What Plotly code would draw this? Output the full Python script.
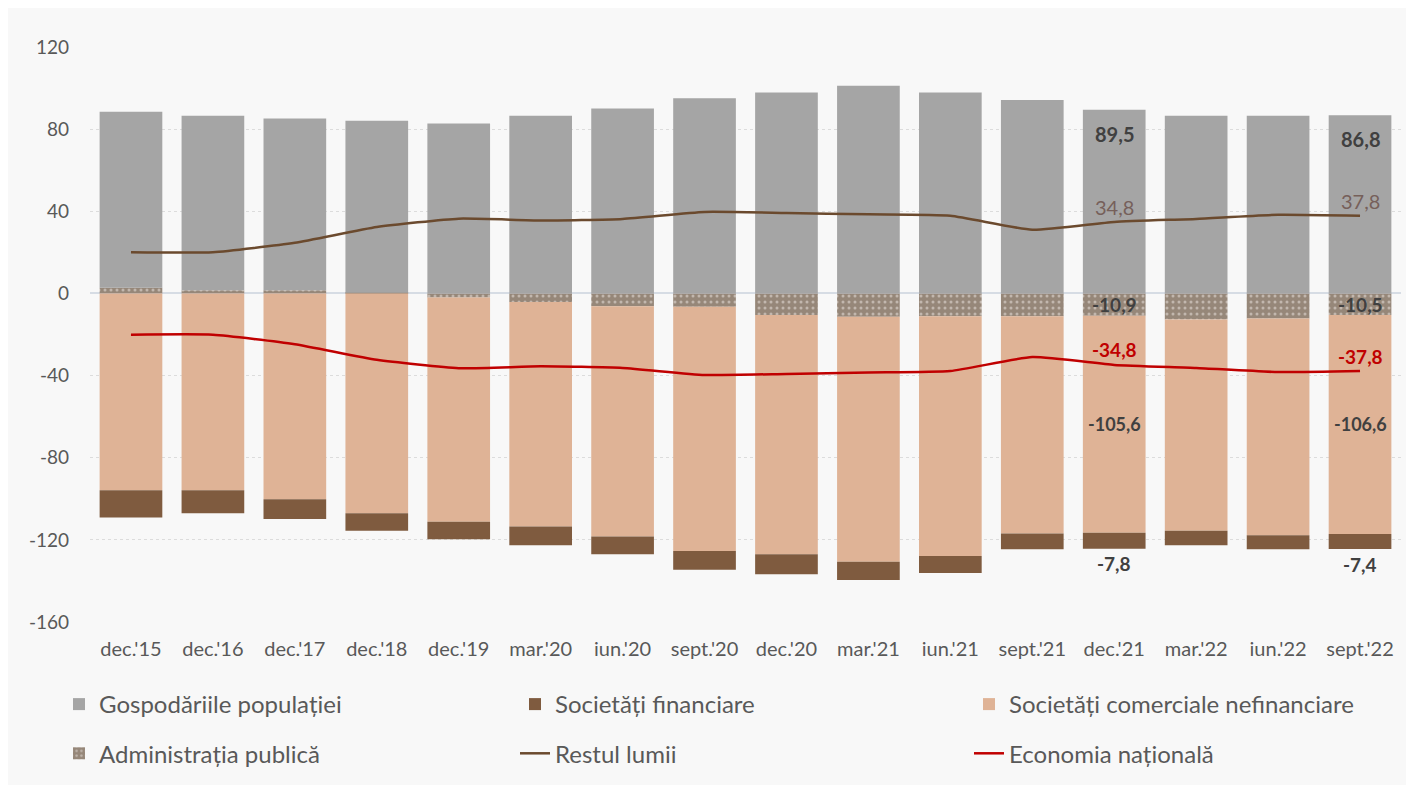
import plotly.graph_objects as go

categories = ["dec.'15", "dec.'16", "dec.'17", "dec.'18", "dec.'19", "mar.'20", "iun.'20", "sept.'20",
              "dec.'20", "mar.'21", "iun.'21", "sept.'21", "dec.'21", "mar.'22", "iun.'22", "sept.'22"]

gospodarii = [85.7, 84.9, 83.6, 83.8, 82.8, 86.5, 90.1, 95.0, 97.9, 101.1, 97.9, 94.2, 89.5, 86.5, 86.5, 86.8]
administratia = [2.8, 1.6, 1.6, 0.3, -2.0, -4.2, -6.2, -6.5, -10.5, -11.4, -11.1, -11.1, -10.9, -12.7, -12.2, -10.5]
nefinanciare = [-95.8, -95.8, -100.2, -107.0, -109.2, -109.3, -112.2, -118.9, -116.5, -119.2, -116.7, -105.8, -105.6, -102.9, -105.5, -106.6]
financiare = [-13.3, -11.2, -9.7, -8.6, -8.5, -9.1, -8.6, -9.2, -9.7, -8.9, -8.3, -7.7, -7.8, -7.0, -6.9, -7.4]
restul_lumii = [20.1, 20.1, 24.7, 32.3, 36.4, 35.5, 36.3, 39.7, 39.2, 38.5, 37.8, 31.0, 34.8, 36.3, 38.3, 37.8]
economia = [-20.1, -20.1, -24.7, -32.3, -36.4, -35.5, -36.3, -39.7, -39.2, -38.5, -37.8, -31.0, -34.8, -36.3, -38.3, -37.8]

label_idx = [12, 15]
y_ticks = [-160, -120, -80, -40, 0, 40, 80, 120]

C_GRAY = "#A5A5A5"
C_FIN = "#7F5B3F"
C_NEF = "#DFB396"
C_LINE_BR = "#6B4A2E"
C_RED = "#C00000"
C_TXT = "#595959"
FONT = "Lato"

fig = go.Figure()
fig.add_trace(go.Bar(x=categories, y=administratia, name="Administrația publică", legend="legend",
                     legendgroup="adm", legendrank=2,
                     marker=dict(color="#A89B90", line=dict(width=0),
                                 pattern=dict(shape=".", fgcolor="#EDE8E3", bgcolor="#968779", size=6, solidity=0.2))))
fig.add_trace(go.Bar(x=categories, y=gospodarii, name="Gospodăriile populației", legend="legend",
                     legendgroup="gosp", legendrank=1,
                     marker=dict(color=C_GRAY, line=dict(width=0))))
fig.add_trace(go.Bar(x=categories, y=nefinanciare, name="Societăți comerciale nefinanciare", legend="legend3",
                     legendgroup="nef", legendrank=1,
                     marker=dict(color=C_NEF, line=dict(width=0))))
fig.add_trace(go.Bar(x=categories, y=financiare, name="Societăți financiare", legend="legend2",
                     legendgroup="fin", legendrank=1,
                     marker=dict(color=C_FIN, line=dict(width=0))))
fig.add_trace(go.Scatter(x=categories, y=restul_lumii, name="Restul lumii", mode="lines", legend="legend2",
                         legendgroup="rest", legendrank=2,
                         line=dict(color=C_LINE_BR, width=2.5, shape="spline", smoothing=0.5)))
fig.add_trace(go.Scatter(x=categories, y=economia, name="Economia națională", mode="lines", legend="legend3",
                         legendgroup="econ", legendrank=2,
                         line=dict(color=C_RED, width=2.5, shape="spline", smoothing=0.5)))


def fmt(v):
    return f"{v:.1f}".replace(".", ",")


annotations = []
for i in label_idx:
    x = categories[i]
    g = gospodarii[i] + max(administratia[i], 0)
    a = administratia[i]
    n = nefinanciare[i]
    f = financiare[i]
    base_neg = min(a, 0)
    common = dict(x=x, xref="x", yref="y", showarrow=False, yanchor="middle")
    annotations.append(dict(common, y=g, text=f"<b>{fmt(gospodarii[i])}</b>", yshift=-24,
                            font=dict(family=FONT, size=20, color="#404040")))
    annotations.append(dict(common, y=restul_lumii[i], text=fmt(restul_lumii[i]), yshift=15,
                            font=dict(family=FONT, size=20, color="#76605A")))
    annotations.append(dict(common, y=a / 2, text=f"<b>{fmt(a)}</b>", yshift=0,
                            font=dict(family=FONT, size=19, color="#404040")))
    annotations.append(dict(common, y=economia[i], text=f"<b>{fmt(economia[i])}</b>", yshift=15,
                            font=dict(family=FONT, size=19, color=C_RED)))
    annotations.append(dict(common, y=base_neg + n / 2, text=f"<b>{fmt(n)}</b>", yshift=0,
                            font=dict(family=FONT, size=18, color="#404040")))
    annotations.append(dict(common, y=base_neg + n + f, text=f"<b>{fmt(f)}</b>", yshift=-15,
                            font=dict(family=FONT, size=19, color="#404040")))

W, H = 1398, 777
legend_common = dict(orientation="v", xref="container", yref="container",
                     xanchor="left", yanchor="top", y=1 - 674 / H,
                     font=dict(family=FONT, size=24, color=C_TXT), traceorder="grouped",
                     tracegroupgap=15, itemwidth=30, bgcolor="rgba(0,0,0,0)")

fig.update_layout(
    barmode="relative",
    bargap=0.235,
    width=W, height=H,
    margin=dict(l=82, r=5, t=39, b=H - 614, autoexpand=False),
    paper_bgcolor="#F8F8F8",
    plot_bgcolor="#F8F8F8",
    font=dict(family=FONT, color=C_TXT),
    showlegend=True,
    legend=dict(legend_common, x=51 / W),
    legend2=dict(legend_common, x=507 / W),
    legend3=dict(legend_common, x=961 / W),
    annotations=annotations,
)
fig.update_xaxes(type="category", showgrid=False, showline=False, ticks="", automargin=False,
                 tickfont=dict(family=FONT, size=20, color=C_TXT), ticklabelstandoff=13)
fig.update_yaxes(range=[-160, 120], tickvals=y_ticks, ticktext=[str(v) for v in y_ticks],
                 showgrid=True, gridcolor="#DCDCDC", griddash="dot", gridwidth=1, automargin=False,
                 zeroline=True, zerolinecolor="#D6DCE4", zerolinewidth=1.5,
                 tickfont=dict(family=FONT, size=19, color=C_TXT), ticklabelstandoff=20)

fig.write_html("out.html")
